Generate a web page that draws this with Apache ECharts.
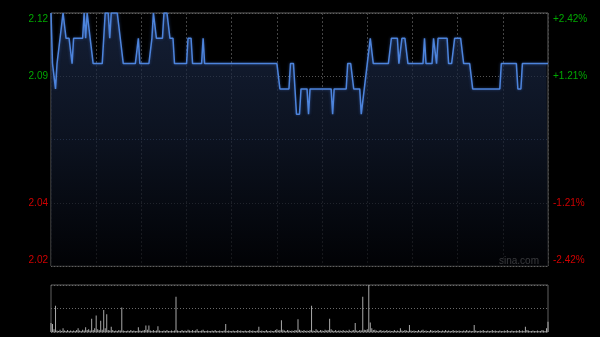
<!DOCTYPE html>
<html>
<head>
<meta charset="utf-8">
<script src="https://cdn.jsdelivr.net/npm/echarts@6/dist/echarts.min.js"></script>
<style>
html,body{margin:0;padding:0;background:#000;}
#chart{width:600px;height:337px;}
</style>
</head>
<body>
<div id="chart"></div>
<script>
// Minute prices, 09:30-12:00 and 13:00-16:00 (331 points)
const prices = [
2.12,2.10,2.10,2.09,2.10,2.10,2.11,2.11,2.12,2.12,2.11,2.11,2.11,2.11,2.10,2.11,2.11,2.11,2.11,2.11,2.11,2.11,2.12,2.11,2.12,2.12,2.11,2.11,2.10,2.10,
2.10,2.10,2.10,2.10,2.10,2.10,2.12,2.12,2.12,2.11,2.12,2.12,2.12,2.12,2.12,2.12,2.11,2.11,2.10,2.10,2.10,2.10,2.10,2.10,2.10,2.10,2.10,2.10,2.11,2.10,
2.10,2.10,2.10,2.10,2.10,2.10,2.10,2.11,2.12,2.12,2.11,2.11,2.11,2.11,2.11,2.12,2.12,2.12,2.12,2.11,2.11,2.11,2.10,2.10,2.10,2.10,2.10,2.10,2.10,2.10,
2.10,2.11,2.11,2.11,2.10,2.10,2.10,2.10,2.10,2.10,2.10,2.11,2.10,2.10,2.10,2.10,2.10,2.10,2.10,2.10,2.10,2.10,2.10,2.10,2.10,2.10,2.10,2.10,2.10,2.10,
2.10,2.10,2.10,2.10,2.10,2.10,2.10,2.10,2.10,2.10,2.10,2.10,2.10,2.10,2.10,2.10,2.10,2.10,2.10,2.10,2.10,2.10,2.10,2.10,2.10,2.10,2.10,2.10,2.10,2.10,
2.10,2.10,2.09,2.09,2.09,2.09,2.09,2.09,2.09,2.10,2.10,2.10,2.09,2.08,2.08,2.08,2.09,2.09,2.09,2.09,2.09,2.08,2.09,2.09,2.09,2.09,2.09,2.09,2.09,2.09,
2.09,2.09,2.09,2.09,2.09,2.09,2.09,2.08,2.09,2.09,2.09,2.09,2.09,2.09,2.09,2.09,2.09,2.10,2.10,2.10,2.10,2.09,2.09,2.09,2.09,2.09,2.08,2.08,2.09,2.09,
2.10,2.10,2.11,2.11,2.10,2.10,2.10,2.10,2.10,2.10,2.10,2.10,2.10,2.10,2.10,2.10,2.11,2.11,2.11,2.11,2.11,2.10,2.10,2.11,2.11,2.11,2.11,2.10,2.10,2.10,
2.10,2.10,2.10,2.10,2.10,2.10,2.10,2.10,2.11,2.10,2.10,2.10,2.10,2.10,2.11,2.11,2.10,2.11,2.11,2.11,2.11,2.11,2.11,2.11,2.10,2.10,2.10,2.10,2.11,2.11,
2.11,2.11,2.11,2.11,2.10,2.10,2.10,2.10,2.10,2.10,2.09,2.09,2.09,2.09,2.09,2.09,2.09,2.09,2.09,2.09,2.09,2.09,2.09,2.09,2.09,2.09,2.09,2.09,2.09,2.10,
2.10,2.10,2.10,2.10,2.10,2.10,2.10,2.10,2.10,2.10,2.09,2.09,2.09,2.10,2.10,2.10,2.10,2.10,2.10,2.10,2.10,2.10,2.10,2.10,2.10,2.10,2.10,2.10,2.10,2.10,
2.10
];
// Minute volumes (relative units, axis top = 100)
const volumes = [
19,17,6,56,3,2,5,2,8,3,2,4,2,3,2,3,2,4,8,3,2,5,3,10,4,6,3,28,4,8,
35,6,4,24,5,47,8,38,4,3,11,4,2,3,2,4,3,52,3,2,2,3,2,4,2,3,2,2,10,3,
2,3,4,14,5,14,3,2,4,2,3,12,3,2,2,3,2,4,2,2,3,2,3,75,3,2,2,4,2,3,
2,5,3,2,4,2,3,6,2,2,3,5,2,2,3,2,2,3,2,4,2,2,3,2,2,3,17,2,3,2,
2,3,2,2,4,2,3,2,2,3,2,2,4,2,3,2,2,3,11,2,3,2,2,4,2,2,3,2,2,4,
6,3,4,25,5,3,2,4,3,2,3,2,4,3,27,5,3,2,4,2,3,2,4,56,3,2,6,3,2,4,
3,2,5,3,4,28,6,3,2,4,2,3,3,2,4,2,3,2,5,2,3,4,19,3,2,4,3,75,5,4,
6,100,20,8,4,5,3,2,3,4,2,3,2,4,2,3,2,2,4,2,3,2,8,3,2,4,3,2,15,3,
2,3,2,2,4,2,3,5,2,3,2,2,4,3,2,3,2,4,2,2,3,2,4,2,3,2,2,4,2,3,
2,3,2,2,3,2,4,2,3,2,2,15,3,2,2,3,2,4,2,2,3,2,2,4,2,3,2,2,3,2,
2,3,2,4,2,2,3,2,2,3,2,4,2,3,2,11,4,3,2,2,3,2,2,3,2,2,4,3,2,8,
22
];
// Tick labels: bottom (2.02) .. top (2.12); the middle one is the previous close 2.07
const tickPrices = [2.02, 2.045, 2.07, 2.095, 2.12];
const leftLabels = ['2.02', '2.04', '', '2.09', '2.12'];
const rightLabels = ['-2.42%', '-1.21%', '', '+1.21%', '+2.42%'];
const prevClose = 2.07;

const GREEN = '#00a800', RED = '#d00000';
const FONT = 'Liberation Sans, Arial, sans-serif';

function labelText(arr, v) {
  const t = arr[v];
  if (v === 4) return '\n' + t;
  if (v === 0) return t + '\n';
  return t;
}
function labelColor(v) {
  return tickPrices[Number(v)] > prevClose ? GREEN : RED;
}

const chart = echarts.init(document.getElementById('chart'), null, {renderer: 'canvas'});
const option = {
  backgroundColor: '#000',
  animation: false,
  grid: [
    {left: 51, top: 13, width: 497, height: 253, show: true, borderColor: '#606060', borderWidth: 1, backgroundColor: 'transparent'},
    {left: 51, top: 285, width: 497, height: 47, show: true, borderColor: '#606060', borderWidth: 1, backgroundColor: 'transparent'}
  ],
  xAxis: [
    {type: 'value', gridIndex: 0, min: 0, max: prices.length - 1, interval: 30,
     axisLine: {show: false}, axisTick: {show: false}, axisLabel: {show: false},
     splitLine: {show: true, lineStyle: {color: '#444', type: [2, 2], width: 1}}},
    {type: 'value', gridIndex: 1, min: 0, max: volumes.length - 1, interval: 30,
     axisLine: {show: false}, axisTick: {show: false}, axisLabel: {show: false},
     splitLine: {show: false}}
  ],
  yAxis: [
    {type: 'value', gridIndex: 0, min: tickPrices[0], max: tickPrices[4], show: false, splitLine: {show: false}},
    {type: 'value', gridIndex: 0, position: 'left', min: 0, max: 4, interval: 1,
     axisLine: {show: false}, axisTick: {show: false},
     axisLabel: {show: true, margin: 3, fontSize: 10, fontFamily: FONT, lineHeight: 12,
       formatter: v => labelText(leftLabels, v), color: v => labelColor(v)},
     splitLine: {show: true, lineStyle: {color: ['#606060', '#555', '#46587a', '#555', '#606060'], type: [1, 2], width: 1}}},
    {type: 'value', gridIndex: 0, position: 'right', min: 0, max: 4, interval: 1,
     axisLine: {show: false}, axisTick: {show: false},
     axisLabel: {show: true, margin: 5, fontSize: 10, fontFamily: FONT, lineHeight: 12,
       formatter: v => labelText(rightLabels, v), color: v => labelColor(v)},
     splitLine: {show: false}},
    {type: 'value', gridIndex: 1, min: 0, max: 100, interval: 50,
     axisLine: {show: false}, axisTick: {show: false}, axisLabel: {show: false},
     splitLine: {show: true, lineStyle: {color: '#6a6a6a', type: [1, 2], width: 1}}}
  ],
  series: [
    {type: 'line', xAxisIndex: 0, yAxisIndex: 0, symbol: 'none', silent: true,
     data: prices.map((p, i) => [i, p]),
     lineStyle: {color: '#4d84dc', width: 1.5, shadowBlur: 3, shadowColor: 'rgba(70,120,220,0.5)'},
     areaStyle: {origin: 'start', color: new echarts.graphic.LinearGradient(0, 0, 0, 1, [
       {offset: 0, color: '#1d2c4c'}, {offset: 0.5, color: '#111a2d'}, {offset: 1, color: '#020307'}])}},
    {type: 'bar', xAxisIndex: 1, yAxisIndex: 3, silent: true, barWidth: 1,
     data: volumes.map((v, i) => [i, v]),
     itemStyle: {color: '#a8a8a8'}}
  ],
  graphic: [
    {type: 'text', left: 499, top: 256, silent: true,
     style: {text: 'sina.com', fill: '#b0b0b0', font: '10px ' + FONT}}
  ]
};
chart.setOption(option);
</script>
</body>
</html>
